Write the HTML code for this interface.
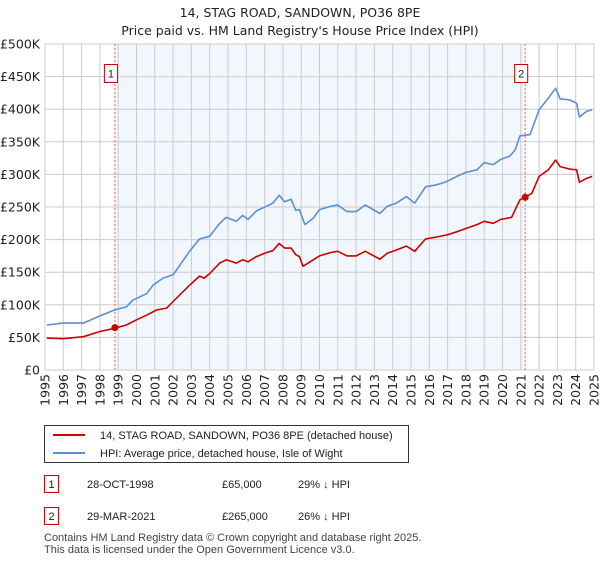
<!DOCTYPE html>
<html><head><meta charset="utf-8"><style>
body{margin:0;background:#fff;font-family:"Liberation Sans","DejaVu Sans",sans-serif;}
svg text{font-family:"Liberation Sans","DejaVu Sans",sans-serif;}
svg text.dv{font-family:"DejaVu Sans","Liberation Sans",sans-serif;}
</style></head><body>
<svg id="c" width="600" height="560" xmlns="http://www.w3.org/2000/svg">
<text class="dv" x="300" y="17" text-anchor="middle" font-size="12.5" fill="#222">14, STAG ROAD, SANDOWN, PO36 8PE</text>
<text class="dv" x="300" y="35" text-anchor="middle" font-size="12.5" fill="#222">Price paid vs. HM Land Registry's House Price Index (HPI)</text>
<g id="plot"></g>
<g>
<rect x="44.5" y="425.5" width="364" height="37" fill="#fff" stroke="#333"/>
<line x1="53" y1="435" x2="85" y2="435" stroke="#cc0000" stroke-width="2"/>
<text x="100" y="439" font-size="11" fill="#222">14, STAG ROAD, SANDOWN, PO36 8PE (detached house)</text>
<line x1="53" y1="453" x2="85" y2="453" stroke="#5b8fd6" stroke-width="2"/>
<text x="100" y="457" font-size="11" fill="#222">HPI: Average price, detached house, Isle of Wight</text>
</g>
<g font-size="11" fill="#222">
<rect x="44.5" y="475.5" width="14" height="17" fill="#fff" stroke="#cc0000"/>
<text x="51.5" y="488" text-anchor="middle">1</text>
<text x="87" y="488">28-OCT-1998</text>
<text x="222" y="488">£65,000</text>
<text x="298" y="488">29% ↓ HPI</text>
<rect x="44.5" y="507.5" width="14" height="17" fill="#fff" stroke="#cc0000"/>
<text x="51.5" y="520" text-anchor="middle">2</text>
<text x="87" y="520">29-MAR-2021</text>
<text x="222" y="520">£265,000</text>
<text x="298" y="520">26% ↓ HPI</text>
</g>
<text x="44" y="541" font-size="11" fill="#444">Contains HM Land Registry data © Crown copyright and database right 2025.</text>
<text x="44" y="553" font-size="11" fill="#444">This data is licensed under the Open Government Licence v3.0.</text>
</svg>
<script>
const hpiYears=[1995.1,1996.0,1997.1,1998.0,1998.8,1999.45,1999.8,2000.55,2000.9,2001.45,2002.0,2002.9,2003.45,2004.0,2004.55,2004.9,2005.45,2005.8,2006.1,2006.55,2007.1,2007.45,2007.8,2008.1,2008.45,2008.7,2008.9,2009.2,2009.66,2010.0,2010.6,2011.0,2011.5,2012.0,2012.5,2013.3,2013.7,2014.2,2014.75,2015.2,2015.8,2016.4,2016.95,2017.5,2018.0,2018.6,2019.0,2019.5,2019.9,2020.4,2020.7,2020.95,2021.5,2022.0,2022.5,2022.9,2023.15,2023.7,2024.05,2024.2,2024.6,2024.9];
const hpiValues=[69,72,72,83,92,97,107,117,130,141,146,182,201,205,225,234,228,237,231,244,251,256,268,258,262,245,246,223,233,246,251,253,243,243,253,240,251,256,266,256,281,284,289,297,303,307,318,315,323,328,338,359,361,399,417,432,416,414,409,388,397,399];
const priceYears=[1995.1,1996.0,1997.1,1998.0,1998.8,1999.45,2000.0,2000.55,2001.1,2001.65,2002.0,2002.9,2003.45,2003.7,2004.0,2004.55,2004.9,2005.45,2005.8,2006.1,2006.55,2007.1,2007.45,2007.8,2008.1,2008.45,2008.7,2008.9,2009.1,2009.66,2010.0,2010.6,2011.0,2011.5,2012.0,2012.5,2013.3,2013.7,2014.2,2014.75,2015.2,2015.8,2016.4,2016.95,2017.5,2018.0,2018.6,2019.0,2019.5,2019.9,2020.5,2020.95,2021.24,2021.6,2022.0,2022.5,2022.9,2023.15,2023.7,2024.05,2024.2,2024.6,2024.9];
const priceValues=[49,48,51,59,64,69,77,84,92,95,105,130,144,141,148,164,169,164,169,166,174,180,183,194,187,187,177,174,159,169,175,180,182,175,175,182,170,179,184,190,182,201,204,207,212,217,223,228,225,231,234,261,265,271,297,307,322,312,308,307,288,294,297];
const saleYears=[1998.82,2021.24];
const saleValues=[65,265];
const saleLabels=["1","2"];
const yTicks=[0,50,100,150,200,250,300,350,400,450,500];
const yTickLabels=["£0","£50K","£100K","£150K","£200K","£250K","£300K","£350K","£400K","£450K","£500K"];
const xTicks=[1995,1996,1997,1998,1999,2000,2001,2002,2003,2004,2005,2006,2007,2008,2009,2010,2011,2012,2013,2014,2015,2016,2017,2018,2019,2020,2021,2022,2023,2024,2025];

const NS="http://www.w3.org/2000/svg";
const L=45,R=594,T=44,B=370;
const xs=y=>L+(y-1995)/30*(R-L);
const ys=v=>B-v/500*(B-T);
const g=document.getElementById('plot');
function mk(t,a){const e=document.createElementNS(NS,t);for(const k in a)e.setAttribute(k,a[k]);g.appendChild(e);return e;}
const sh=mk('rect',{x:xs(saleYears[0]),y:T,width:xs(saleYears[1])-xs(saleYears[0]),height:B-T,fill:'#f2f6fd'});


yTicks.forEach((v,i)=>{
 const ln=mk('line',{x1:L,x2:R,y1:ys(v),y2:ys(v),stroke:'#cccccc','stroke-width':1});
 
 
 const t=mk('text',{x:L-5,y:ys(v)+4.5,'text-anchor':'end','font-size':12.5,fill:'#222','class':'dv'});
 t.textContent=yTickLabels[i];
 
 
});
xTicks.forEach(yr=>{
 const ln=mk('line',{x1:xs(yr),x2:xs(yr),y1:T,y2:B,stroke:'#cccccc','stroke-width':1});
 
 
 const t=mk('text',{x:0,y:0,'text-anchor':'end','font-size':12.5,fill:'#222','class':'dv',transform:`translate(${xs(yr)+4.5},${B+4}) rotate(-90)`});
 t.textContent=yr;
 
 
});
const fr=mk('rect',{x:L,y:T,width:R-L,height:B-T,fill:'none',stroke:'#cccccc'});


saleYears.forEach((yr,i)=>{
 const v=mk('line',{x1:xs(yr),x2:xs(yr),y1:T,y2:B,stroke:'#f06060','stroke-dasharray':'2,2','stroke-width':1});
 
 
});
function line(xa,va,col,name){
 const p=mk('polyline',{points:xa.map((x,i)=>xs(x).toFixed(1)+','+ys(va[i]).toFixed(1)).join(' '),fill:'none',stroke:col,'stroke-width':1.6,'stroke-linejoin':'round'});
 
 
}
line(hpiYears,hpiValues,'#5b8fd6','hpi-line');
line(priceYears,priceValues,'#cc0000','price-paid-line');
saleYears.forEach((yr,i)=>{
 const c=mk('circle',{cx:xs(yr),cy:ys(saleValues[i]),r:3.5,fill:'#cc0000'});
 
 
 const bx=mk('rect',{x:xs(yr)-10.5,y:64.5,width:13,height:18,fill:'#fff',stroke:'#cc0000'});
 
 
 const t=mk('text',{x:xs(yr)-4,y:77.5,'text-anchor':'middle','font-size':11,fill:'#222'});
 t.textContent=saleLabels[i];
 
 
});
</script>
</body></html>
